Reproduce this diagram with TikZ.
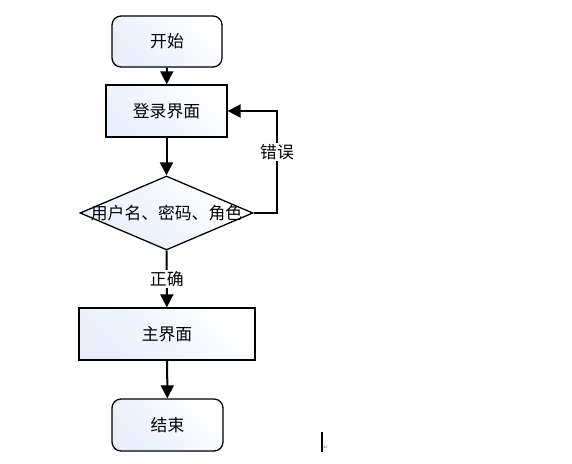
\documentclass[tikz,border=0pt]{standalone}
\usepackage{fontspec}
\setmainfont{Noto Sans CJK SC}
\newfontfamily\symfont{DejaVu Sans}
\usepackage{tikz}
\usetikzlibrary{positioning}
\usetikzlibrary{shapes.geometric}
\usetikzlibrary{arrows.meta}

\begin{document}
\begin{tikzpicture}[
        x=1pt, y=-1pt,
        every node/.style={font=\fontsize{16.8}{19}\selectfont},
        box/.style={draw, line width=1.3pt, left color=boxblue, right color=white, shading angle=135, inner sep=0pt},
        term/.style={box, rounded corners=9pt, minimum width=110pt, minimum height=51pt},
        proc/.style={box, minimum height=52pt},
        decide/.style={box, diamond, minimum width=173pt, minimum height=74pt},
        flow/.style={line width=2pt, -{Triangle[length=13pt,width=13pt]}},
        lbl/.style={fill=white, inner sep=1pt},
    ]
        \definecolor{boxblue}{RGB}{232,238,250}

        \useasboundingbox (0,0) rectangle (572,463);

        % Nodes
        \node[term] (start) at (167,41.5) {开始};
        \node[proc, minimum width=121pt] (login) at (166.5,111) {登录界面};
        \node[decide] (check) at (166.5,213) {\makebox[0pt]{用户名、密码、角色}};
        \node[proc, minimum width=176pt] (main) at (167,334) {主界面};
        \node[term, minimum width=111pt, minimum height=52pt] (stop) at (167.5,425) {结束};
        \coordinate (back) at (277,213);

        % Edges
        \draw[flow] (start) -- (login);
        \draw[flow] (login) -- (check);
        \draw[flow] (check) -- node[lbl] {正确} (main);
        \draw[flow] (main) -- (stop);
        \draw[flow] (check.east) -- (back) |- node[lbl, pos=0.3] {错误} (login.east);

        % cursor
        \draw[line width=1.6pt] (322,432) -- (322,452);
        \node[font=\symfont\fontsize{6}{6}\selectfont, text=gray, inner sep=0pt] (ret) at (326,448) {↵};
    \end{tikzpicture}
\end{document}
